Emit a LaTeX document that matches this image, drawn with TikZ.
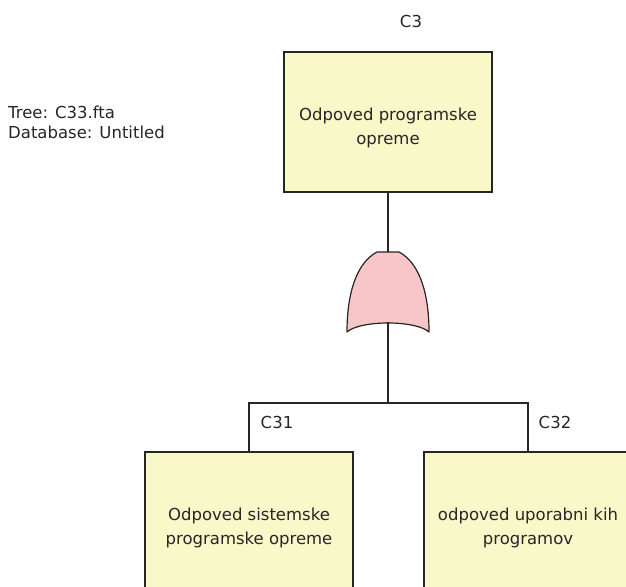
\documentclass[tikz,border=0pt]{standalone}
\usepackage{fontspec}
\setmainfont{DejaVu Sans}
\begin{document}
\begin{tikzpicture}[x=1pt,y=-1pt,
  event/.style={draw=black!85,line width=1.2pt,fill=evfill,minimum width=208pt,minimum height=140pt,inner sep=0pt},
  lbl/.style={font=\fontsize{16.5}{24}\selectfont,text=black!85,inner sep=0pt},
  wire/.style={draw=black!85,line width=1.2pt}]
\definecolor{evfill}{HTML}{F9F8C9}
\definecolor{gatefill}{HTML}{F8C6C8}
\useasboundingbox (0,0) rectangle (626,586);
\clip (0,0) rectangle (626,586);
% header
\node[lbl,anchor=west,align=left] (info) at (8,122) {Tree: C33.fta\\[-4pt]Database: Untitled};
% top event
\node[event] (top) at (388,122) {};
\node[lbl,align=center] (toptxt) at (388,128) {Odpoved programske\\opreme};
\node[lbl] (topid) at (411,21) {C3};
% OR gate
\coordinate (gtop) at (388,252);
\coordinate (gbot) at (388,322);
\filldraw[wire,fill=gatefill,line join=round]
  (377,252) -- (399,252)
  .. controls (418,262) and (429,290) .. (429,332)
  .. controls (416,320) and (360,320) .. (347,332)
  .. controls (347,290) and (358,262) .. (377,252) -- cycle;
% children
\node[event] (c31) at (249,522) {};
\node[event] (c32) at (528,522) {};
\node[lbl,align=center] (c31txt) at (249,528) {Odpoved sistemske\\programske opreme};
\node[lbl,align=center] (c32txt) at (528,528) {odpoved uporabni kih\\programov};
\node[lbl] (c31id) at (277,422) {C31};
\node[lbl] (c32id) at (555,422) {C32};
% connectors
\coordinate (bar) at (388,403);
\draw[wire] (top.south) -- (gtop);
\draw[wire] (gbot) -- (bar);
\draw[wire] (c31.north) |- (bar) -| (c32.north);
\end{tikzpicture}
\end{document}
